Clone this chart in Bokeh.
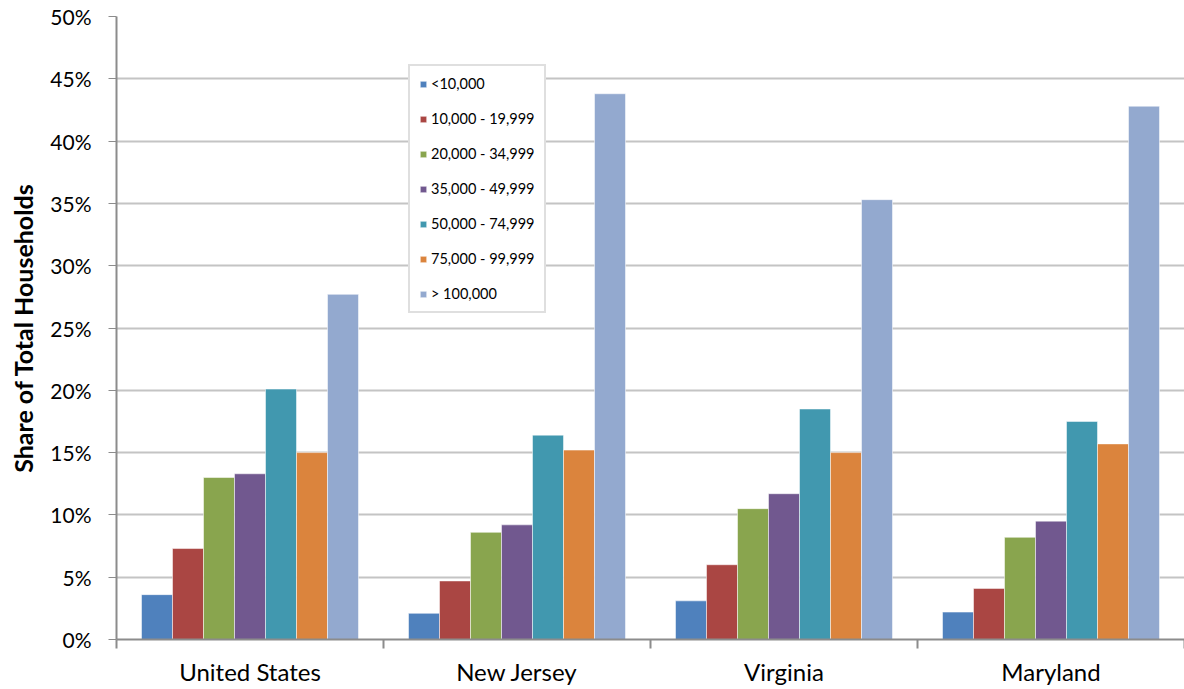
from bokeh.plotting import figure
from bokeh.models import FixedTicker, NumeralTickFormatter, Legend, LegendItem, ColumnDataSource, Range1d
from bokeh.embed import file_html
from bokeh.resources import INLINE

regions = ["United States", "New Jersey", "Virginia", "Maryland"]
brackets = ["<10,000", "10,000 - 19,999", "20,000 - 34,999", "35,000 - 49,999",
            "50,000 - 74,999", "75,000 - 99,999", "> 100,000"]
lt10k = [3.6, 2.1, 3.1, 2.2]
b10_20 = [7.3, 4.7, 6.0, 4.1]
b20_35 = [13.0, 8.6, 10.5, 8.2]
b35_50 = [13.3, 9.2, 11.7, 9.5]
b50_75 = [20.1, 16.4, 18.5, 17.5]
b75_100 = [15.0, 15.2, 15.0, 15.7]
gt100k = [27.7, 43.8, 35.3, 42.8]
series = [lt10k, b10_20, b20_35, b35_50, b50_75, b75_100, gt100k]
colors = ["#4F81BD", "#AA4643", "#89A54E", "#71588F", "#4198AF", "#DB843D", "#93A9CF"]

FONT = "Lato"
W, H = 1184, 688
left, top, bottom = 116, 16, 48
plot_w = W - left
cat_px = 267.0
bar_w = 31.0 / cat_px

p = figure(width=W, height=H, output_backend="svg", toolbar_location=None,
           x_range=Range1d(0, plot_w / cat_px), y_range=Range1d(0, 0.5),
           min_border_left=left, min_border_right=0, min_border_top=top, min_border_bottom=bottom)
p.outline_line_color = None
p.background_fill_color = "white"

centers = [i + 0.5 for i in range(len(regions))]
items = []
for k, (vals, col, lab) in enumerate(zip(series, colors, brackets)):
    xs = [c + (k - 3) * bar_w for c in centers]
    src = ColumnDataSource(dict(x=xs, top=[v / 100 for v in vals]))
    r = p.vbar(x="x", top="top", width=bar_w, bottom=0, source=src,
               fill_color=col, line_color="white", line_alpha=0.5, line_width=1)
    items.append(LegendItem(label=lab, renderers=[r]))

# y axis
p.yaxis.ticker = FixedTicker(ticks=[i * 0.05 for i in range(11)])
p.yaxis.formatter = NumeralTickFormatter(format="0%")
p.yaxis.major_label_text_font = FONT
p.yaxis.major_label_text_font_size = "21px"
p.yaxis.major_label_text_color = "black"
p.yaxis.axis_line_color = "#8c8c8c"
p.yaxis.axis_line_width = 2
p.yaxis.major_tick_line_color = "#8c8c8c"
p.yaxis.major_tick_out = 8
p.yaxis.major_tick_in = 0
p.yaxis.minor_tick_line_color = None
p.yaxis.major_label_standoff = 17
p.yaxis.axis_label = "Share of Total Households"
p.yaxis.axis_label_text_font = FONT
p.yaxis.axis_label_text_font_style = "bold"
p.yaxis.axis_label_text_font_size = "25px"
p.yaxis.axis_label_text_color = "black"
p.yaxis.axis_label_standoff = 9

# x axis
p.xaxis.ticker = FixedTicker(ticks=centers, minor_ticks=[0, 1, 2, 3, 4])
p.xaxis.major_label_overrides = {c: r for c, r in zip(centers, regions)}
p.xaxis.major_label_text_font = FONT
p.xaxis.major_label_text_font_size = "24px"
p.xaxis.major_label_text_color = "black"
p.xaxis.major_tick_line_color = None
p.xaxis.major_tick_out = 8
p.xaxis.minor_tick_line_color = "#8c8c8c"
p.xaxis.minor_tick_line_width = 2
p.xaxis.minor_tick_out = 9
p.xaxis.minor_tick_in = 0
p.xaxis.axis_line_color = "#8c8c8c"
p.xaxis.axis_line_width = 2
p.xaxis.major_label_standoff = 8

p.xgrid.grid_line_color = None
p.ygrid.ticker = FixedTicker(ticks=[i * 0.05 for i in range(1, 11)])
p.ygrid.grid_line_color = "#c4c4c4"
p.ygrid.grid_line_width = 2

legend = Legend(items=items, location=(292, 326), orientation="vertical",
                label_text_font=FONT, label_text_font_size="14.5px", label_text_color="black",
                glyph_width=8, glyph_height=8, label_height=16, label_standoff=4,
                spacing=18, padding=9, margin=0,
                border_line_color="#c0c0c0", border_line_width=2,
                background_fill_color="white", background_fill_alpha=1)
p.add_layout(legend, "center")

open("out.html", "w").write(file_html(p, INLINE))
